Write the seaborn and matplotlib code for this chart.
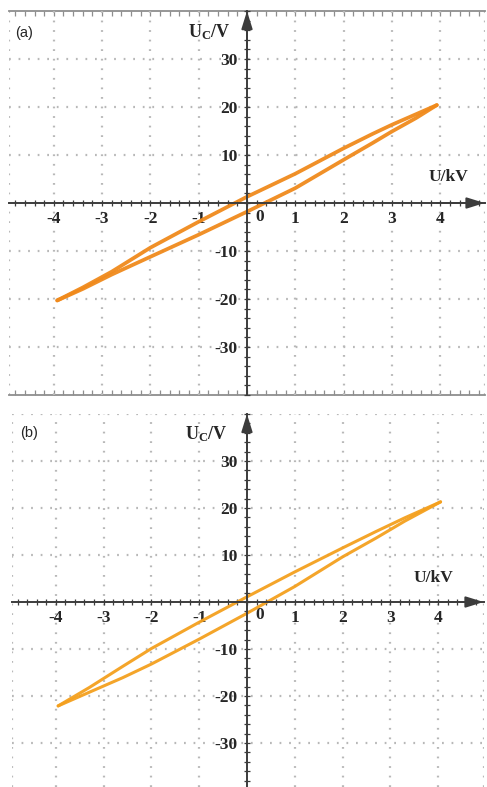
import matplotlib
matplotlib.use("Agg")
import matplotlib.pyplot as plt
import seaborn as sns
from matplotlib.ticker import MultipleLocator, FixedLocator, NullFormatter

# Lissajous loops: U in kV, Uc in V
# panel (a)
a_upper_u = [-3.93, -3.4, -2.8, -2.0, -1.0, 0.0, 1.0, 2.0, 2.6, 3.0, 3.5, 3.93]
a_upper_uc = [-20.3, -17.6, -14.3, -9.3, -3.9, 1.3, 6.1, 11.4, 14.4, 16.3, 18.5, 20.4]
a_lower_u = [-3.93, -3.4, -2.8, -2.0, -1.0, 0.0, 1.0, 2.0, 2.6, 3.0, 3.5, 3.93]
a_lower_uc = [-20.3, -17.9, -14.9, -11.2, -6.6, -1.8, 3.1, 9.0, 12.5, 14.9, 17.7, 20.4]

# panel (b)
b_upper_u = [-3.95, -3.3, -2.6, -2.0, -1.0, 0.0, 1.0, 2.0, 2.7, 3.3, 4.05]
b_upper_uc = [-22.1, -18.2, -13.7, -9.9, -4.3, 1.1, 6.4, 11.5, 15.0, 17.9, 21.3]
b_lower_u = [-3.95, -3.3, -2.6, -2.0, -1.0, 0.0, 1.0, 2.0, 2.7, 3.3, 4.05]
b_lower_uc = [-22.1, -19.2, -16.1, -13.2, -7.9, -2.4, 3.3, 9.6, 13.6, 17.2, 21.3]

x_ticks = [-4, -3, -2, -1, 1, 2, 3, 4]
y_ticks = [-30, -20, -10, 10, 20, 30]

sns.set_theme(style="white")
plt.rcParams["font.family"] = ["Liberation Serif", "DejaVu Serif"]
plt.rcParams["axes.unicode_minus"] = False
plt.rcParams["mathtext.fontset"] = "custom"
plt.rcParams["mathtext.bf"] = "Liberation Serif:bold"
plt.rcParams["mathtext.rm"] = "Liberation Serif"

AXIS = "#3c3c3c"
GRID = "#b8b8b8"
FRAME = "#8e8e8e"
DOTS = (0, (0.8, 3.5))


def draw_panel(ax, upper, lower, color, lw, xlim, ylim, tag, tag_xy, uc_xy, u_xy, zero_xy, framed):
    for u, uc in (upper, lower):
        sns.lineplot(x=u, y=uc, sort=False, estimator=None, ax=ax, color=color, lw=lw, alpha=0.95, zorder=3)

    ax.set_xlim(*xlim)
    ax.set_ylim(*ylim)

    # axes through the origin, like the scope screen
    ax.spines["left"].set_position(("data", 0))
    ax.spines["bottom"].set_position(("data", 0))
    for s in ("left", "bottom"):
        ax.spines[s].set_color(AXIS)
        ax.spines[s].set_linewidth(1.4)
        ax.spines[s].set_zorder(4)
    ax.spines["top"].set_visible(False)
    ax.spines["right"].set_visible(False)

    ax.xaxis.set_major_locator(FixedLocator(x_ticks))
    ax.yaxis.set_major_locator(FixedLocator(y_ticks))
    ax.xaxis.set_minor_locator(MultipleLocator(0.2))
    ax.yaxis.set_minor_locator(MultipleLocator(2))
    ax.tick_params(which="both", direction="inout", color=AXIS, width=0.9,
                   bottom=True, left=True, top=False, right=False)
    ax.tick_params(which="major", length=5)
    ax.tick_params(which="minor", length=4)
    ax.tick_params(axis="x", pad=3.5)
    ax.tick_params(axis="y", pad=4)
    for lab in ax.get_xticklabels() + ax.get_yticklabels():
        lab.set_fontweight("bold")
        lab.set_fontsize(12.5)
    ax.text(*zero_xy, "0", fontsize=12.5, fontweight="bold", ha="center", va="center")

    ax.grid(True, which="major", color=GRID, lw=1.6, ls=DOTS, zorder=0)
    # screen edges
    for xe in ax.get_xlim():
        ax.axvline(xe, color=GRID, lw=1.6, ls=DOTS, zorder=0)
    if framed:
        for loc in ("top", "bottom"):
            sec = ax.secondary_xaxis(loc)
            sec.xaxis.set_major_locator(MultipleLocator(0.2))
            sec.xaxis.set_major_formatter(NullFormatter())
            sec.tick_params(direction="in", length=3.5, color=FRAME, width=0.9)
            sec.spines[loc].set_color(FRAME)
            sec.spines[loc].set_linewidth(1.3)
    else:
        ax.axhline(ax.get_ylim()[1], color=GRID, lw=1.6, ls=DOTS, zorder=0)

    # arrow heads
    arrow = dict(arrowstyle="-|>,head_length=0.9,head_width=0.28", color=AXIS, lw=1.4,
                 shrinkA=0, shrinkB=0)
    ax.annotate("", xy=(0, 1), xycoords=("data", "axes fraction"),
                xytext=(0, 0.9), textcoords=("data", "axes fraction"), arrowprops=arrow, zorder=5)
    ax.annotate("", xy=(1, 0), xycoords=("axes fraction", "data"),
                xytext=(0.9, 0), textcoords=("axes fraction", "data"), arrowprops=arrow, zorder=5)

    ax.text(*tag_xy, tag, family=["Liberation Sans", "DejaVu Sans"], fontsize=10.5,
            ha="left", va="center")
    ax.text(*uc_xy, r"$\mathbf{U_C/V}$", fontsize=13, ha="right", va="center")
    ax.text(*u_xy, "U/kV", fontsize=12.5, fontweight="bold", ha="right", va="center")


fig = plt.figure(figsize=(4.87, 7.87), dpi=100)
ax_a = fig.add_axes([0.0193, 0.4981, 0.9758, 0.4879])
ax_b = fig.add_axes([0.0242, 0.0, 0.9688, 0.474])

draw_panel(ax_a, (a_upper_u, a_upper_uc), (a_lower_u, a_lower_uc), "#F08A1C", 2.7,
           (-4.92, 4.92), (-40, 40), "(a)", (-4.8, 35.4), (-0.35, 35.6), (4.58, 5.4),
           (0.27, -2.9), framed=True)
draw_panel(ax_b, (b_upper_u, b_upper_uc), (b_lower_u, b_lower_uc), "#F4A01E", 2.2,
           (-4.92, 4.95), (-39.35, 40), "(b)", (-4.75, 36), (-0.40, 35.7), (4.31, 5.1),
           (0.27, -2.8), framed=False)

fig.savefig("out.png", dpi=100)
